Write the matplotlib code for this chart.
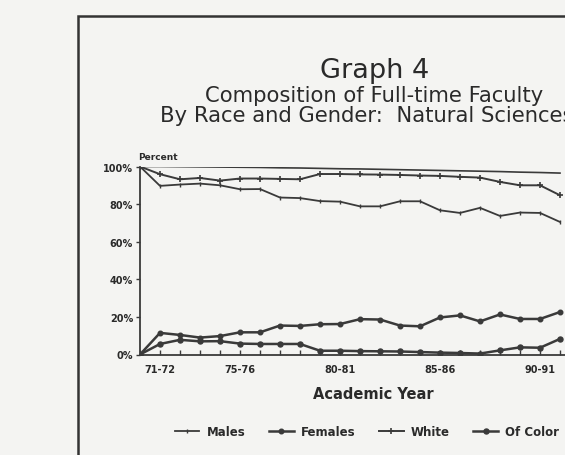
import matplotlib
matplotlib.use("Agg")
import matplotlib.pyplot as plt
from matplotlib.patches import Rectangle

# academic years 70-71 .. 91-92 (one point per year)
years = ["70-71", "71-72", "72-73", "73-74", "74-75", "75-76", "76-77", "77-78",
         "78-79", "79-80", "80-81", "81-82", "82-83", "83-84", "84-85", "85-86",
         "86-87", "87-88", "88-89", "89-90", "90-91", "91-92"]
tick_labels = {1: "71-72", 5: "75-76", 10: "80-81", 15: "85-86", 20: "90-91"}

# values (percent)
top_line = [100, 100, 99.9, 99.8, 99.7, 99.6, 99.5, 99.3, 99.2, 99.0, 98.8,
            98.7, 98.5, 98.3, 98.1, 97.9, 97.7, 97.5, 97.3, 97.0, 96.8, 96.5]
males = [100, 89.7, 90.4, 90.9, 90.0, 87.9, 88.0, 83.5, 83.2, 81.6, 81.3,
         78.8, 78.8, 81.5, 81.5, 76.7, 75.3, 78.0, 73.7, 75.5, 75.3, 70.5]
females = [0, 11.5, 10.4, 9.0, 9.8, 11.8, 11.8, 15.4, 15.2, 16.1, 16.2,
           18.8, 18.6, 15.4, 15.0, 19.7, 20.8, 17.6, 21.3, 18.9, 18.9, 22.6]
white = [100, 95.9, 93.2, 93.9, 92.5, 93.6, 93.6, 93.4, 93.2, 96.0, 96.0,
         95.8, 95.7, 95.5, 95.2, 95.0, 94.5, 94.1, 91.8, 90.0, 90.0, 84.7]
of_color = [0, 5.6, 7.8, 7.0, 7.1, 5.8, 5.6, 5.6, 5.6, 2.0, 2.0,
            1.8, 1.7, 1.6, 1.3, 1.0, 0.8, 0.5, 2.2, 3.8, 3.6, 8.3]

W, H = 565, 456
ink = "#3a3a3a"
paper = "#f4f4f2"

fig = plt.figure(figsize=(W / 100, H / 100), dpi=100, facecolor=paper)

# outer frame of the scanned page (runs off the right and bottom edges)
fig.patches.append(Rectangle((78 / W, -0.5), 2, 1.5 - 17 / H, transform=fig.transFigure,
                             fill=False, edgecolor="#333333", linewidth=1.8))

# axes: 20 px per year, 0..100% between y=355.5 and y=167.5
ax = fig.add_axes([140 / W, (H - 355.5) / H, 460 / W, 188 / H])
ax.set_facecolor("none")
x = list(range(len(years)))

ax.plot(x, top_line, color=ink, lw=1.2)
ax.plot(x, males, color=ink, lw=1.3, marker="|", ms=3, label="Males")
ax.plot(x, females, color=ink, lw=1.8, marker="o", ms=3.3, label="Females")
ax.plot(x, white, color=ink, lw=1.4, marker="+", ms=4, mew=1.2, label="White")
ax.plot(x, of_color, color=ink, lw=1.8, marker="o", ms=3.6, label="Of Color")

ax.set_xlim(0, 23)
ax.set_ylim(0, 100)
for s in ["top", "right"]:
    ax.spines[s].set_visible(False)
for s in ["left", "bottom"]:
    ax.spines[s].set_color(ink)
    ax.spines[s].set_linewidth(1.3)

ax.set_yticks([0, 20, 40, 60, 80, 100])
ax.set_yticklabels(["0%", "20%", "40%", "60%", "80%", "100%"])
ax.set_xticks(x)
ax.set_xticklabels([tick_labels.get(i, "") for i in x])
ax.tick_params(axis="y", direction="out", length=3, width=1, color=ink, pad=2,
               labelsize=7, labelcolor="#2a2a2a")
ax.tick_params(axis="x", direction="in", length=3.5, width=1, color=ink, pad=7,
               labelsize=7, labelcolor="#2a2a2a")
for t in ax.get_xticklabels() + ax.get_yticklabels():
    t.set_fontweight("bold")

# titles
fig.text(375 / W, 1 - 78 / H, "Graph 4", ha="center", va="baseline",
         fontsize=19.5, color="#2a2a2a")
fig.text(374 / W, 1 - 101.5 / H, "Composition of Full-time Faculty", ha="center",
         va="baseline", fontsize=15.2, color="#2a2a2a")
# third line runs off the right edge in the scan as well
fig.text(160 / W, 1 - 121.5 / H, "By Race and Gender:  Natural Sciences", ha="left",
         va="baseline", fontsize=15.2, color="#2a2a2a")
fig.text(138 / W, 1 - 157 / H, "Percent", ha="left", va="center",
         fontsize=6.5, fontweight="bold", color="#2a2a2a")

fig.text(373 / W, 1 - 395 / H, "Academic Year", ha="center", va="center",
         fontsize=10.5, fontweight="bold", color="#2a2a2a")

leg = fig.legend(loc="center", bbox_to_anchor=(367 / W, 1 - 433 / H), ncol=4,
                 frameon=False, handlelength=2.1, handletextpad=0.6,
                 columnspacing=2.0, prop={"size": 8.5, "weight": "bold"})
for t in leg.get_texts():
    t.set_color("#2a2a2a")

fig.savefig("out.png", dpi=100, facecolor=paper)
